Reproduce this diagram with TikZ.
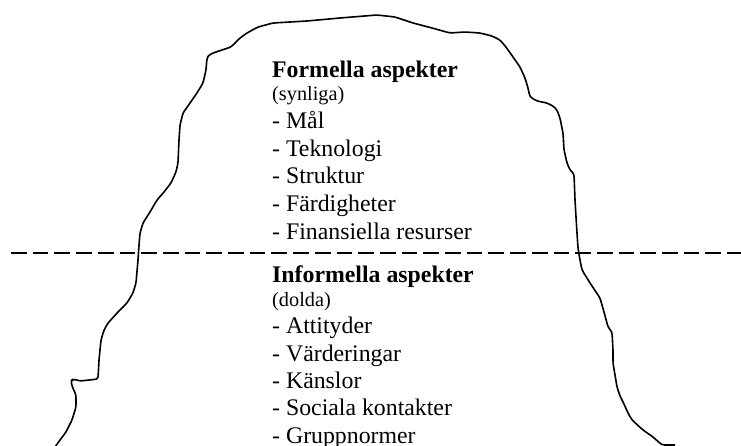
\documentclass[tikz,border=0pt]{standalone}
\usepackage{fontspec}
\setmainfont{Liberation Serif}
\begin{document}
\begin{tikzpicture}[x=1pt,y=-1pt,
  berg/.style={draw=black,line width=1.6pt,rounded corners=2.5pt,line join=round},
  water/.style={draw=black,line width=2pt,dash pattern=on 15.7pt off 6pt},
  head/.style={anchor=base west,inner sep=0pt,font=\fontsize{23.8}{27}\selectfont\bfseries},
  sub/.style={anchor=base west,inner sep=0pt,font=\fontsize{20.3}{24}\selectfont},
  item/.style={anchor=base west,inner sep=0pt,font=\fontsize{23.8}{27}\selectfont}]
\useasboundingbox (0,0) rectangle (741,446);
% iceberg outline
\draw[berg] (55,447) -- (60,440) -- (66,432) -- (72,420) -- (76,407) -- (76,395) -- (72,386)
  -- (71,381) -- (73,379) -- (80,381) -- (98,379) -- (99,360) -- (101,340) -- (104,330)
  -- (108,323) -- (118,312) -- (127,303) -- (133,293) -- (136,283) -- (138,260) -- (139,245)
  -- (140,233) -- (143,223) -- (150,212) -- (157,200) -- (164,192) -- (171,183) -- (176,172)
  -- (178,163) -- (179,140) -- (180,125) -- (183,113) -- (190,103) -- (197,93) -- (203,83)
  -- (206,70) -- (207,58) -- (209,55) -- (213,53) -- (222,50) -- (231,47) -- (240,38)
  -- (247,33) -- (258,27) -- (273,23) -- (307,21) -- (340,18) -- (377,15) -- (395,17)
  -- (413,23) -- (432,28) -- (450,33) -- (465,32) -- (480,33) -- (492,36) -- (500,40)
  -- (506,47) -- (513,57) -- (520,67) -- (525,78) -- (528,88) -- (530,97) -- (537,101)
  -- (547,103) -- (553,106) -- (557,110) -- (560,118) -- (563,133) -- (564,150) -- (567,163)
  -- (570,170) -- (574,174) -- (575,200) -- (576,217) -- (577,233) -- (578,248) -- (580,260)
  -- (582,270) -- (590,283) -- (600,298) -- (604,312) -- (608,327) -- (612,332) -- (613,350)
  -- (613,363) -- (617,387) -- (620,396) -- (624,404) -- (628,413) -- (632,420) -- (643,430)
  -- (653,437) -- (662,445) -- (675,445);
% water line
\coordinate (wl) at (11,253);
\coordinate (wr) at (741,253);
\draw[water] (wl) -- (wr);
% texts
\node[head] (h1) at (272,77.5) {Formella aspekter};
\node[sub]  (s1) at (272,100.5) {(synliga)};
\node[item] (a1) at (272,128.5) {- Mål};
\node[item] (a2) at (272,156.5) {- Teknologi};
\node[item] (a3) at (272,184) {- Struktur};
\node[item] (a4) at (272,211.5) {- Färdigheter};
\node[item] (a5) at (272,240) {- Finansiella resurser};
\node[head] (h2) at (272,282.5) {Informella aspekter};
\node[sub]  (s2) at (272,306.5) {(dolda)};
\node[item] (b1) at (272,333.5) {- Attityder};
\node[item] (b2) at (272,361) {- Värderingar};
\node[item] (b3) at (272,388) {- Känslor};
\node[item] (b4) at (272,415.5) {- Sociala kontakter};
\node[item] (b5) at (272,443) {- Gruppnormer};
\end{tikzpicture}
\end{document}
